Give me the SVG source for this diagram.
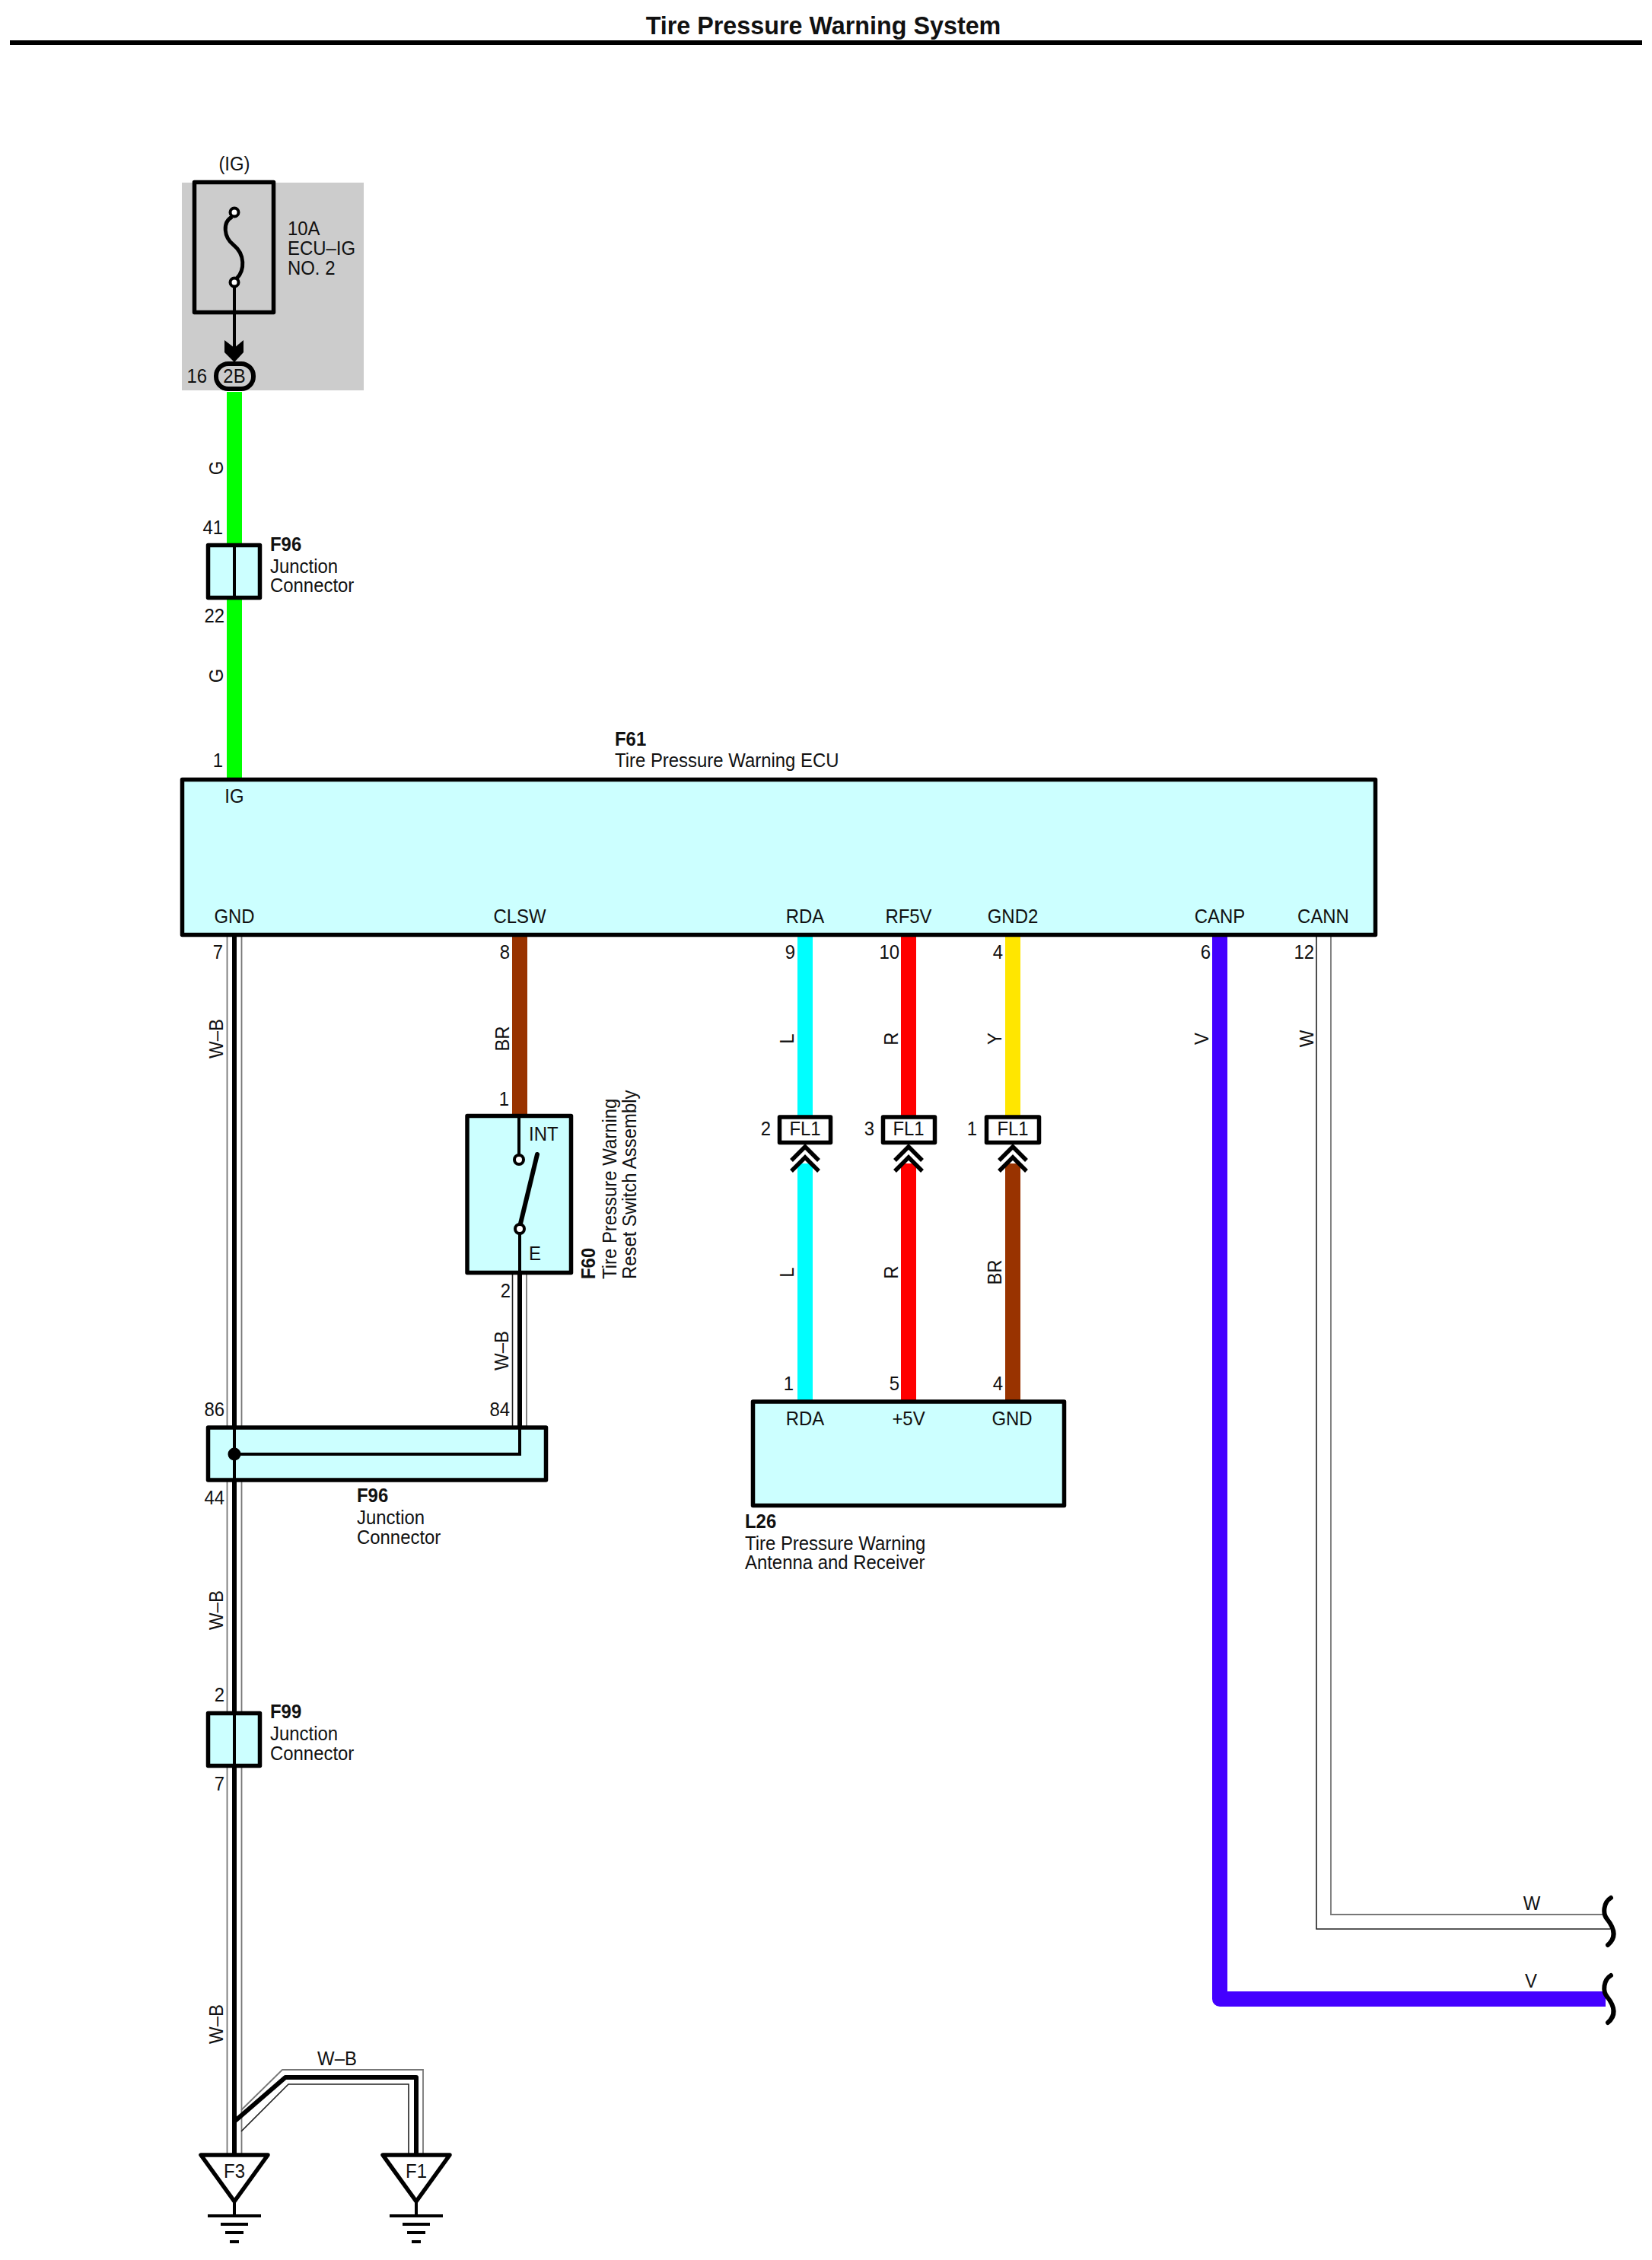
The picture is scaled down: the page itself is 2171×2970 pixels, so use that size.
<svg xmlns="http://www.w3.org/2000/svg" width="2171" height="2970" viewBox="0 0 2171 2970">
<style>
text{font-family:"Liberation Sans",Arial,sans-serif;font-size:26px;fill:#111;transform-box:fill-box;transform:scaleX(.92);transform-origin:0 0}
.b{font-weight:bold}
.m{text-anchor:middle;transform-origin:50% 0}
.e{text-anchor:end;transform-origin:100% 0}
.box{fill:#ccffff;stroke:#000;stroke-width:5.5;stroke-linejoin:round}
.wbox{fill:#fff;stroke:#000;stroke-width:5.5;stroke-linejoin:round}
.ln{fill:none;stroke:#000;stroke-width:4}
.th{fill:none;stroke:#000;stroke-width:6;stroke-linejoin:round}
.side{fill:none;stroke:#777;stroke-width:1.8}
.side2{fill:none;stroke:#222;stroke-width:1.6}
.w{fill:none;stroke-width:20}
.chev{fill:none;stroke:#000;stroke-width:5.5}
.ct{fill:#fff;stroke:#000;stroke-width:4}
</style>
<defs>
<path id="brk" d="M2117 2494C2107 2500 2106 2515 2112 2522C2120 2532 2126 2545 2113 2556" fill="none" stroke="#000" stroke-width="6" stroke-linecap="round"/>
<g id="gnd">
<path d="M-44 -80H44L0 -19Z" class="wbox"/>
<path d="M0 -19V0" class="ln"/>
<path d="M-35 0H35M-18 11H18M-12 22H12M-6 34H6" class="ln"/>
</g>
<g id="chevs">
<path d="M-18 1525L0 1507L18 1525M-18 1539L0 1521L18 1539" class="chev"/>
</g>
</defs>
<g id="title">
<text x="1082" y="45" class="b m" style="font-size:34px;transform:scaleX(.95)">Tire Pressure Warning System</text>
<path d="M13 56H2158" fill="none" stroke="#000" stroke-width="6"/>
</g>
<g id="fuse-block">
<rect x="239" y="240" width="239" height="273" fill="#ccc"/>
<text x="308" y="224" class="m">(IG)</text>
<rect x="255.500" y="239.500" width="104" height="171" fill="none" stroke="#000" stroke-width="5.5" stroke-linejoin="round"/>
<path d="M305 285C292 292 294 312 307 322C322 334 322 355 311 366" fill="none" stroke="#000" stroke-width="5"/>
<circle cx="308" cy="279" r="5.500" class="ct"/>
<path d="M308 377V470" class="ln"/>
<circle cx="308" cy="371" r="5.500" class="ct"/>
<path d="M295 447L308 457L320 447V463L308 476L295 463Z" fill="#000"/>
<rect x="284" y="478" width="49" height="33" rx="16" fill="none" stroke="#000" stroke-width="6"/>
<text x="378" y="309">10A</text>
<text x="378" y="335">ECU–IG</text>
<text x="378" y="361">NO. 2</text>
<text x="272" y="503" class="e">16</text>
<text x="308" y="503" class="m">2B</text>
</g>
<g id="connectors">
<path d="M308 515V1024" class="w" stroke="#00ff00"/>
<path d="M683 1228V1464" class="w" stroke="#993300"/>
<path d="M1058 1228V1466" class="w" stroke="#00ffff"/>
<path d="M1194 1228V1466" class="w" stroke="#ff0000"/>
<path d="M1331 1228V1466" class="w" stroke="#ffe600"/>
<path d="M1058 1529V1842" class="w" stroke="#00ffff"/>
<path d="M1194 1529V1842" class="w" stroke="#ff0000"/>
<path d="M1331 1529V1842" class="w" stroke="#993300"/>
<path d="M1603 1228V2627H2110" class="w" stroke="#4400ff" stroke-linejoin="round"/>
<path d="M1749 1228V2516H2110" class="side"/>
<path d="M1730 1228V2535H2116" class="side2"/>
<path d="M298.500 1228V2832M317.500 1228V2832" class="side"/>
<path d="M308 1228V2832" class="th"/>
<path d="M673.500 1672V1876" class="side2"/>
<path d="M692 1672V1876" class="side"/>
<path d="M683 1672V1876" class="th"/>
<path d="M308 2788L375 2730H547V2832" class="th"/>
<path d="M317 2773L371 2720H556V2832" class="side"/>
<path d="M317 2801L379 2739H537V2832" class="side2"/>
<use href="#brk"/>
<use href="#brk" y="102"/>
</g>
<g id="F96-top">
<rect x="273.500" y="716.500" width="68" height="69" class="box"/>
<path d="M308 716V786" class="ln"/>
<text x="293" y="702" class="e">41</text>
<text x="295" y="818" class="e">22</text>
<text x="355" y="724" class="b">F96</text>
<text x="355" y="753">Junction</text>
<text x="355" y="778">Connector</text>
</g>
<g id="F61">
<rect x="239.500" y="1024.500" width="1568" height="204" class="box"/>
<text x="808" y="980" class="b">F61</text>
<text x="808" y="1008">Tire Pressure Warning ECU</text>
<text x="293" y="1008" class="e">1</text>
<text x="308" y="1055" class="m">IG</text>
<text x="308" y="1213" class="m">GND</text>
<text x="683" y="1213" class="m">CLSW</text>
<text x="1058" y="1213" class="m">RDA</text>
<text x="1194" y="1213" class="m">RF5V</text>
<text x="1331" y="1213" class="m">GND2</text>
<text x="1603" y="1213" class="m">CANP</text>
<text x="1739" y="1213" class="m">CANN</text>
</g>
<g id="F60">
<rect x="614" y="1466.500" width="136.500" height="206" class="box"/>
<path d="M682 1467V1518M683 1621V1672" class="ln"/>
<circle cx="682" cy="1524" r="6" class="ct"/>
<circle cx="683" cy="1615" r="6" class="ct"/>
<path d="M706 1517L684 1608" fill="none" stroke="#000" stroke-width="6" stroke-linecap="round"/>
<text x="695" y="1499">INT</text>
<text x="695" y="1656">E</text>
<text x="669" y="1453" class="e">1</text>
<text x="671" y="1705" class="e">2</text>
<g transform="translate(782 1681) rotate(-90)"><text class="b">F60</text></g>
<g transform="translate(810 1681) rotate(-90)"><text>Tire Pressure Warning</text></g>
<g transform="translate(836 1681) rotate(-90)"><text>Reset Switch Assembly</text></g>
</g>
<g id="FL1-a">
<rect x="1024.500" y="1468" width="67" height="33.500" class="wbox"/>
<text x="1058" y="1492" class="m">FL1</text>
<text x="1013" y="1492" class="e">2</text>
<use href="#chevs" x="1058"/>
</g>
<g id="FL1-b">
<rect x="1160.500" y="1468" width="68" height="33.500" class="wbox"/>
<text x="1194" y="1492" class="m">FL1</text>
<text x="1149" y="1492" class="e">3</text>
<use href="#chevs" x="1194"/>
</g>
<g id="FL1-c">
<rect x="1296.500" y="1468" width="69" height="33.500" class="wbox"/>
<text x="1331" y="1492" class="m">FL1</text>
<text x="1284" y="1492" class="e">1</text>
<use href="#chevs" x="1331"/>
</g>
<g id="F96-long">
<rect x="273.500" y="1876" width="444" height="69" class="box"/>
<path d="M308 1876V1945M308 1911H683V1876" class="ln"/>
<circle cx="308" cy="1911" r="8.500" fill="#000"/>
<text x="295" y="1861" class="e">86</text>
<text x="670" y="1861" class="e">84</text>
<text x="295" y="1977" class="e">44</text>
<text x="469" y="1974" class="b">F96</text>
<text x="469" y="2003">Junction</text>
<text x="469" y="2029">Connector</text>
</g>
<g id="L26">
<rect x="989.500" y="1842" width="409" height="136.500" class="box"/>
<text x="1058" y="1873" class="m">RDA</text>
<text x="1194" y="1873" class="m">+5V</text>
<text x="1330" y="1873" class="m">GND</text>
<text x="1043" y="1827" class="e">1</text>
<text x="1182" y="1827" class="e">5</text>
<text x="1318" y="1827" class="e">4</text>
<text x="979" y="2008" class="b">L26</text>
<text x="979" y="2037">Tire Pressure Warning</text>
<text x="979" y="2062">Antenna and Receiver</text>
</g>
<g id="F99">
<rect x="273.500" y="2251.500" width="68" height="69" class="box"/>
<path d="M308 2251V2321" class="ln"/>
<text x="295" y="2236" class="e">2</text>
<text x="295" y="2353" class="e">7</text>
<text x="355" y="2258" class="b">F99</text>
<text x="355" y="2287">Junction</text>
<text x="355" y="2313">Connector</text>
</g>
<g id="F3">
<use href="#gnd" x="308" y="2912"/>
<text x="308" y="2862" class="m">F3</text>
</g>
<g id="F1">
<use href="#gnd" x="547" y="2912"/>
<text x="547" y="2862" class="m">F1</text>
</g>
<g id="wire-labels">
<g transform="translate(293 615) rotate(-90)"><text class="m">G</text></g>
<g transform="translate(293 888) rotate(-90)"><text class="m">G</text></g>
<text x="293" y="1260" class="e">7</text>
<text x="670" y="1260" class="e">8</text>
<text x="1045" y="1260" class="e">9</text>
<text x="1182" y="1260" class="e">10</text>
<text x="1318" y="1260" class="e">4</text>
<text x="1591" y="1260" class="e">6</text>
<text x="1727" y="1260" class="e">12</text>
<g transform="translate(293 1365) rotate(-90)"><text class="m">W–B</text></g>
<g transform="translate(669 1365) rotate(-90)"><text class="m">BR</text></g>
<g transform="translate(1043 1365) rotate(-90)"><text class="m">L</text></g>
<g transform="translate(1180 1365) rotate(-90)"><text class="m">R</text></g>
<g transform="translate(1316 1365) rotate(-90)"><text class="m">Y</text></g>
<g transform="translate(1588 1365) rotate(-90)"><text class="m">V</text></g>
<g transform="translate(1726 1365) rotate(-90)"><text class="m">W</text></g>
<g transform="translate(1043 1672) rotate(-90)"><text class="m">L</text></g>
<g transform="translate(1180 1672) rotate(-90)"><text class="m">R</text></g>
<g transform="translate(1316 1672) rotate(-90)"><text class="m">BR</text></g>
<g transform="translate(668 1775) rotate(-90)"><text class="m">W–B</text></g>
<g transform="translate(293 2116) rotate(-90)"><text class="m">W–B</text></g>
<g transform="translate(293 2660) rotate(-90)"><text class="m">W–B</text></g>
<text x="443" y="2714" class="m">W–B</text>
<text x="2013" y="2510" class="m">W</text>
<text x="2012" y="2612" class="m">V</text>
</g>
</svg>
